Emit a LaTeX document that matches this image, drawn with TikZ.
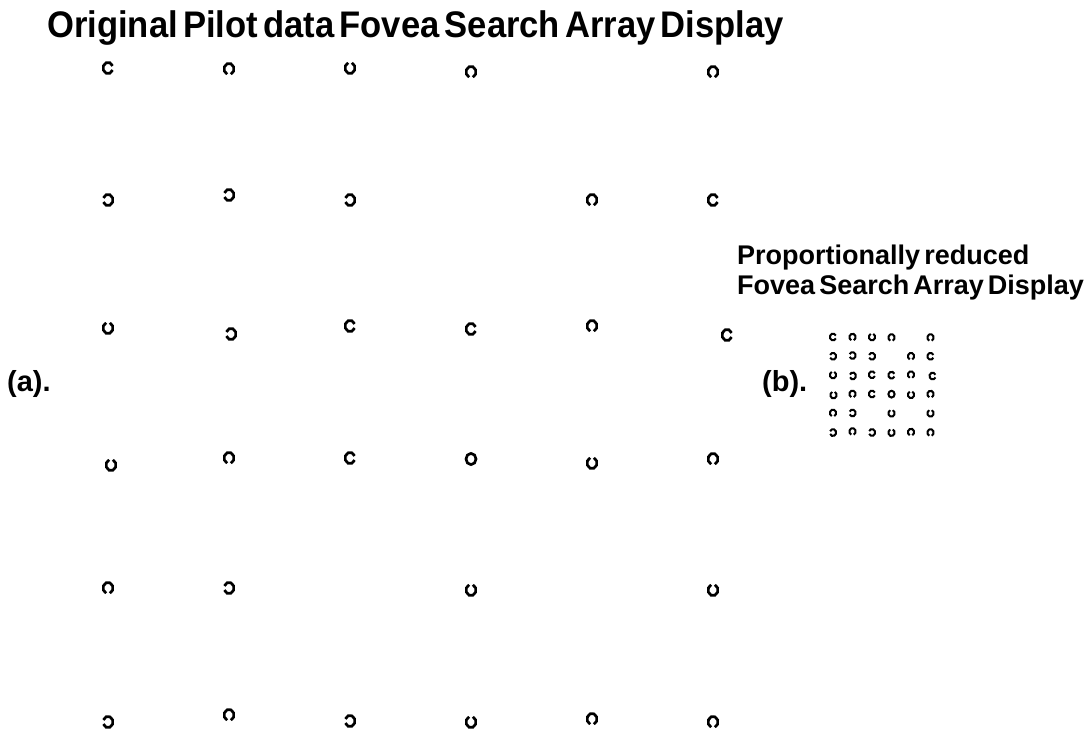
\documentclass[tikz,border=0pt]{standalone}
\usepackage{fontspec}
\setmainfont{Liberation Sans}
\newcommand\lcring[5]{%
  \draw[bigring] ({108+121*(#1-1)+#4},{68+130*(#2-1)+#5}) ++(#3+22:5pt and 5.6pt) arc[start angle=#3+22,end angle=#3+338,x radius=5pt,y radius=5.6pt];
  \draw[smallring] ({833+19.5*(#1-1)+0.15*(#4)},{337+19*(#2-1)+0.15*(#5)}) ++(#3+24:3.1pt and 3.4pt) arc[start angle=#3+24,end angle=#3+336,x radius=3.1pt,y radius=3.4pt];}
\newcommand\lcclosed[4]{%
  \draw[bigring] ({108+121*(#1-1)+#3},{68+130*(#2-1)+#4}) ellipse[x radius=5pt,y radius=5.6pt];
  \draw[smallring] ({833+19.5*(#1-1)+0.15*(#3)},{337+19*(#2-1)+0.15*(#4)}) ellipse[x radius=3.1pt,y radius=3.4pt];}
\begin{document}
\begin{tikzpicture}[x=1pt,y=-1pt,
  bigring/.style={line width=2.7pt,black},
  smallring/.style={line width=2.0pt,black},
  lbl/.style={font=\fontsize{29}{32}\selectfont\bfseries, inner sep=0pt, anchor=base west},
  sub/.style={font=\fontsize{27}{30}\selectfont\bfseries, inner sep=0pt, anchor=base west}]
\useasboundingbox (0,0) rectangle (1091,735);
\node[font=\fontsize{37}{42}\selectfont\bfseries, inner sep=0pt, anchor=base west] (title) at (47,38)
  {\scalebox{0.935}[1]{\spaceskip=0.15em\relax Original Pilot data Fovea Search Array Display}};
\node[sub] (sub1) at (737,264) {\spaceskip=0.15em\relax Proportionally reduced};
\node[sub] (sub2) at (737,294) {\spaceskip=0.15em\relax Fovea Search Array Display};
\node[lbl] (la) at (7,391) {(a).};
\node[lbl] (lb) at (762,391) {(b).};
% row 1
\lcring{1}{1}{0}{0}{0} \lcring{2}{1}{270}{0}{1} \lcring{3}{1}{90}{0}{0} \lcring{4}{1}{270}{0}{4} \lcring{6}{1}{270}{0}{4}
% row 2
\lcring{1}{2}{180}{0}{2} \lcring{2}{2}{180}{0}{-3} \lcring{3}{2}{180}{0}{2} \lcring{5}{2}{270}{0}{2} \lcring{6}{2}{0}{0}{2}
% row 3
\lcring{1}{3}{90}{0}{0} \lcring{2}{3}{180}{2}{6} \lcring{3}{3}{0}{0}{-2} \lcring{4}{3}{0}{0}{1} \lcring{5}{3}{270}{0}{-2} \lcring{6}{3}{0}{14}{7}
% row 4
\lcring{1}{4}{90}{3}{7} \lcring{2}{4}{270}{0}{0} \lcring{3}{4}{0}{0}{0} \lcclosed{4}{4}{0}{1} \lcring{5}{4}{90}{0}{5} \lcring{6}{4}{270}{0}{1}
% row 5
\lcring{1}{5}{270}{0}{0} \lcring{2}{5}{180}{0}{0} \lcring{4}{5}{90}{0}{2} \lcring{6}{5}{90}{0}{2}
% row 6
\lcring{1}{6}{180}{0}{4} \lcring{2}{6}{270}{0}{-3} \lcring{3}{6}{180}{0}{3} \lcring{4}{6}{90}{0}{4} \lcring{5}{6}{270}{0}{1} \lcring{6}{6}{270}{0}{4}
\end{tikzpicture}
\end{document}
